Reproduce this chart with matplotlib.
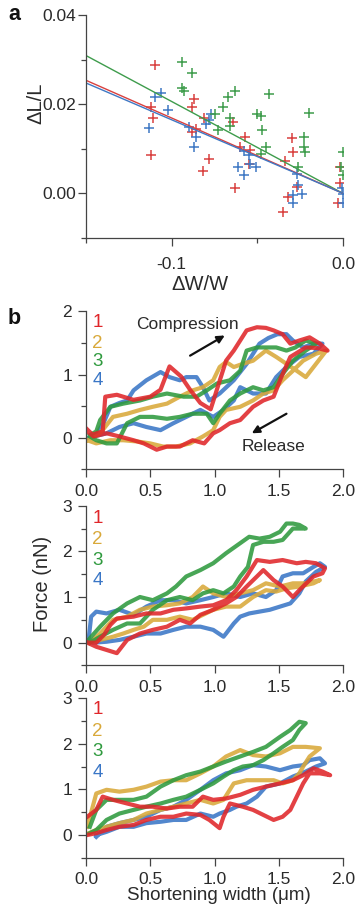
import numpy as np
import matplotlib
matplotlib.use("Agg")
import matplotlib.pyplot as plt
from matplotlib.ticker import MultipleLocator, FormatStrFormatter

plt.rcParams["font.family"] = ["Liberation Sans", "DejaVu Sans"]

# ── panel a: ΔL/L against ΔW/W ────────────────────────────────────────────────
red_dw = [-0.110, -0.112, -0.111, -0.112, -0.087, -0.088, -0.086, -0.088, -0.081,
          -0.078, -0.082, -0.064, -0.063, -0.060, -0.057, -0.055, -0.054, -0.034,
          -0.030, -0.029, -0.032, -0.035, -0.027, -0.002, -0.002, -0.003]
red_dl = [0.0287, 0.0193, 0.0169, 0.0087, 0.0211, 0.0193, 0.0144, 0.0137, 0.0169,
          0.0076, 0.0050, 0.0159, 0.0013, 0.0105, 0.0126, 0.0065, 0.0098, 0.0073,
          0.0124, 0.0093, -0.0009, -0.0041, 0.0015, 0.0059, 0.0024, -0.0022]
blue_dw = [-0.113, -0.110, -0.106, -0.102, -0.090, -0.086, -0.087, -0.080, -0.077,
           -0.078, -0.061, -0.058, -0.054, -0.051, -0.055, -0.058, -0.029, -0.029,
           -0.024, -0.026, -0.027, 0.000, 0.000, -0.0005]
blue_dl = [0.0147, 0.0217, 0.0226, 0.0187, 0.0148, 0.0126, 0.0105, 0.0156, 0.0178,
           0.0164, 0.0059, 0.0041, 0.0067, 0.0059, 0.0087, 0.0095, -0.0004, -0.0022,
           -0.0001, 0.0019, 0.0044, -0.0022, -0.0001, 0.0011]
green_dw = [-0.094, -0.088, -0.094, -0.093, -0.075, -0.070, -0.073, -0.067, -0.063,
            -0.066, -0.066, -0.050, -0.048, -0.043, -0.047, -0.045, -0.048, -0.020,
            -0.023, -0.023, -0.022, -0.026, 0.000, -0.001, 0.000]
green_dl = [0.0295, 0.0270, 0.0236, 0.0230, 0.0178, 0.0193, 0.0141, 0.0215, 0.0230,
            0.0152, 0.0169, 0.0179, 0.0174, 0.0222, 0.0141, 0.0104, 0.0089, 0.0181,
            0.0126, 0.0104, 0.0093, 0.0059, 0.0093, 0.0059, 0.0041]
fit_slopes = {"red": -0.169, "blue": -0.165, "green": -0.206}   # lines through origin
fit_range = [-0.15, 0.0]

# ── panel b: force vs shortening width, three cells, four cycles each ────────
# each trace = compression branch followed by release branch
b1_red_x = [0.00, 0.05, 0.10, 0.13, 0.15, 0.24, 0.37, 0.50, 0.58, 0.65, 0.74, 0.81, 0.89, 0.97,
            1.04, 1.09, 1.15, 1.25, 1.33, 1.40, 1.46, 1.53, 1.59, 1.66, 1.74, 1.82, 1.88,
            1.80, 1.71, 1.59, 1.52, 1.46, 1.38, 1.30, 1.20, 1.12, 1.04, 0.99, 0.92, 0.83,
            0.73, 0.63, 0.55, 0.45, 0.37, 0.26, 0.16, 0.06, 0.01]
b1_red_y = [0.15, 0.05, 0.08, 0.10, 0.65, 0.68, 0.60, 0.65, 0.76, 1.13, 0.97, 0.76, 0.55, 0.45,
            0.90, 1.22, 1.38, 1.70, 1.75, 1.74, 1.70, 1.64, 1.49, 1.54, 1.59, 1.49, 1.38,
            1.42, 1.43, 1.28, 0.96, 0.65, 0.59, 0.49, 0.28, 0.23, 0.12, 0.07, -0.09, -0.04,
            -0.14, -0.14, -0.19, -0.09, -0.04, 0.02, 0.07, 0.02, 0.10]
b1_gold_x = [0.01, 0.11, 0.21, 0.32, 0.42, 0.52, 0.63, 0.73, 0.83, 0.91, 0.99, 1.04, 1.09, 1.15,
             1.22, 1.30, 1.40, 1.48, 1.56, 1.64, 1.71, 1.79, 1.87,
             1.79, 1.69, 1.61, 1.53, 1.46, 1.38, 1.30, 1.20, 1.09, 1.04, 0.99, 0.91, 0.81,
             0.70, 0.60, 0.50, 0.40, 0.29, 0.19, 0.08, 0.01]
b1_gold_y = [-0.04, 0.07, 0.33, 0.38, 0.44, 0.49, 0.54, 0.65, 0.75, 0.80, 0.91, 1.12, 1.20, 1.12,
             1.17, 1.22, 1.38, 1.28, 1.17, 1.06, 0.96, 1.17, 1.38,
             1.33, 1.22, 1.06, 0.91, 0.75, 0.70, 0.59, 0.49, 0.44, 0.33, 0.12, 0.02, -0.09,
             -0.14, -0.14, -0.09, -0.06, -0.04, -0.04, -0.09, -0.04]
b1_green_x = [0.03, 0.08, 0.11, 0.19, 0.29, 0.42, 0.52, 0.63, 0.76, 0.86, 0.94, 1.02, 1.12, 1.20,
              1.25, 1.33, 1.40, 1.48, 1.56, 1.63, 1.71, 1.79,
              1.71, 1.61, 1.53, 1.46, 1.38, 1.30, 1.20, 1.12, 1.04, 0.99, 0.94, 0.83, 0.73,
              0.63, 0.52, 0.42, 0.32, 0.24, 0.16, 0.08, 0.03]
b1_green_y = [0.04, 0.10, 0.28, 0.49, 0.54, 0.59, 0.65, 0.70, 0.65, 0.65, 0.75, 0.86, 0.91, 1.06,
              1.38, 1.43, 1.43, 1.43, 1.38, 1.43, 1.54, 1.49,
              1.38, 1.22, 1.01, 0.80, 0.75, 0.80, 0.70, 0.59, 0.38, 0.23, 0.38, 0.38, 0.33,
              0.30, 0.33, 0.33, 0.23, -0.09, -0.09, -0.04, 0.02]
b1_blue_x = [0.02, 0.08, 0.14, 0.19, 0.26, 0.32, 0.37, 0.47, 0.58, 0.65, 0.73, 0.78, 0.86, 0.91,
             0.96, 1.04, 1.15, 1.25, 1.35, 1.42, 1.49, 1.56, 1.61, 1.69, 1.77, 1.84,
             1.77, 1.66, 1.56, 1.48, 1.40, 1.30, 1.20, 1.15, 1.07, 0.99, 0.89, 0.78, 0.68,
             0.58, 0.47, 0.37, 0.26, 0.16, 0.06]
b1_blue_y = [0.00, 0.05, 0.25, 0.49, 0.55, 0.59, 0.75, 0.91, 1.04, 0.96, 0.91, 0.96, 0.96, 0.80,
             0.59, 0.70, 0.91, 1.17, 1.49, 1.58, 1.64, 1.64, 1.54, 1.43, 1.49, 1.49,
             1.33, 1.28, 1.12, 0.96, 0.70, 0.70, 0.80, 0.59, 0.44, 0.33, 0.44, 0.33, 0.23,
             0.12, 0.17, 0.23, 0.17, 0.07, 0.02]

b2_red_x = [0.01, 0.08, 0.14, 0.19, 0.24, 0.37, 0.47, 0.58, 0.68, 0.78, 0.89, 0.99, 1.09, 1.17,
            1.25, 1.33, 1.43, 1.53, 1.64, 1.71, 1.79, 1.86,
            1.84, 1.77, 1.66, 1.61, 1.53, 1.46, 1.38, 1.33, 1.25, 1.17, 1.09, 0.99, 0.89,
            0.81, 0.73, 0.63, 0.52, 0.42, 0.32, 0.24, 0.16, 0.08, 0.01]
b2_red_y = [0.00, 0.00, 0.17, 0.39, 0.53, 0.57, 0.64, 0.64, 0.72, 0.75, 0.79, 0.82, 0.93, 1.15,
            1.45, 1.81, 1.77, 1.81, 1.74, 1.77, 1.74, 1.63,
            1.52, 1.45, 1.15, 1.00, 1.23, 1.37, 1.59, 1.45, 1.23, 1.00, 0.86, 0.72, 0.61,
            0.42, 0.50, 0.35, 0.28, 0.20, 0.06, -0.23, -0.16, -0.09, 0.00]
b2_gold_x = [0.03, 0.11, 0.21, 0.32, 0.42, 0.52, 0.63, 0.73, 0.83, 0.91, 0.99, 1.09, 1.20, 1.30,
             1.40, 1.51, 1.61, 1.71, 1.82,
             1.77, 1.66, 1.56, 1.48, 1.40, 1.30, 1.20, 1.09, 0.99, 0.91, 0.83, 0.73, 0.63,
             0.52, 0.45, 0.37, 0.29, 0.21, 0.11, 0.03]
b2_gold_y = [0.00, 0.20, 0.50, 0.57, 0.72, 0.79, 0.82, 0.86, 1.00, 1.23, 1.08, 1.00, 1.08, 1.15,
             1.30, 1.23, 1.30, 1.30, 1.37,
             1.30, 1.23, 1.19, 1.12, 1.15, 1.00, 0.79, 0.79, 0.72, 0.61, 0.50, 0.57, 0.50,
             0.50, 0.35, 0.28, 0.20, 0.13, 0.06, 0.00]
b2_green_x = [0.00, 0.11, 0.21, 0.32, 0.42, 0.52, 0.63, 0.70, 0.78, 0.89, 0.99, 1.09, 1.20, 1.27,
              1.35, 1.43, 1.51, 1.56, 1.61, 1.66, 1.71,
              1.61, 1.53, 1.46, 1.38, 1.30, 1.26, 1.20, 1.15, 1.07, 0.99, 0.91, 0.83, 0.73,
              0.63, 0.52, 0.42, 0.32, 0.21, 0.11, 0.03]
b2_green_y = [0.00, 0.35, 0.64, 0.86, 1.00, 0.93, 1.08, 1.23, 1.45, 1.59, 1.74, 1.96, 2.18, 2.32,
              2.28, 2.32, 2.43, 2.61, 2.61, 2.58, 2.50,
              2.50, 2.25, 2.21, 2.21, 2.14, 1.66, 1.45, 1.23, 1.08, 1.15, 1.08, 0.93, 1.00,
              0.93, 0.72, 0.42, 0.42, 0.28, 0.13, 0.00]
b2_blue_x = [0.02, 0.04, 0.08, 0.16, 0.26, 0.37, 0.47, 0.58, 0.68, 0.78, 0.89, 0.99, 1.09, 1.20,
             1.30, 1.40, 1.48, 1.53, 1.61, 1.69, 1.77, 1.82, 1.86,
             1.79, 1.71, 1.66, 1.59, 1.51, 1.43, 1.35, 1.27, 1.20, 1.15, 1.09, 1.07, 0.99,
             0.89, 0.78, 0.68, 0.58, 0.47, 0.37, 0.26, 0.16, 0.06]
b2_blue_y = [0.06, 0.57, 0.68, 0.64, 0.72, 0.61, 0.79, 0.93, 0.93, 0.86, 0.93, 1.00, 1.08, 1.00,
             1.08, 1.00, 1.15, 1.45, 1.52, 1.52, 1.66, 1.74, 1.66,
             1.55, 1.34, 1.08, 0.86, 0.79, 0.72, 0.68, 0.64, 0.57, 0.42, 0.20, 0.13, 0.28,
             0.35, 0.35, 0.28, 0.20, 0.20, 0.13, 0.06, 0.02, 0.00]

b3_red_x = [0.01, 0.08, 0.13, 0.21, 0.32, 0.42, 0.52, 0.63, 0.73, 0.83, 0.91, 0.99, 1.09, 1.20,
            1.30, 1.40, 1.51, 1.61, 1.69, 1.77, 1.84, 1.90,
            1.82, 1.74, 1.69, 1.64, 1.59, 1.53, 1.46, 1.38, 1.30, 1.22, 1.12, 1.07, 1.04,
            0.96, 0.89, 0.78, 0.68, 0.58, 0.47, 0.37, 0.26, 0.16, 0.08, 0.01]
b3_red_y = [0.40, 0.55, 0.84, 0.77, 0.69, 0.62, 0.62, 0.58, 0.62, 0.62, 0.84, 0.77, 0.80, 0.88,
            0.99, 1.06, 1.13, 1.20, 1.31, 1.46, 1.39, 1.31,
            1.35, 1.35, 1.13, 0.84, 0.55, 0.40, 0.33, 0.44, 0.55, 0.62, 0.69, 0.40, 0.15,
            0.33, 0.44, 0.47, 0.40, 0.40, 0.33, 0.22, 0.18, 0.11, 0.04, 0.00]
b3_gold_x = [0.01, 0.08, 0.16, 0.26, 0.37, 0.47, 0.58, 0.68, 0.78, 0.89, 0.99, 1.09, 1.20, 1.30,
             1.40, 1.51, 1.61, 1.71, 1.82,
             1.74, 1.69, 1.66, 1.61, 1.53, 1.46, 1.35, 1.25, 1.15, 1.07, 0.99, 0.89, 0.78,
             0.68, 0.58, 0.47, 0.37, 0.26, 0.16, 0.08, 0.02]
b3_gold_y = [0.18, 0.91, 0.99, 0.95, 0.99, 1.06, 1.17, 1.20, 1.20, 1.35, 1.50, 1.72, 1.86, 1.75,
             1.72, 1.79, 1.93, 1.93, 1.90,
             1.72, 1.50, 1.35, 1.20, 1.13, 1.20, 1.20, 1.20, 1.13, 0.77, 0.69, 0.77, 0.69,
             0.62, 0.55, 0.47, 0.33, 0.26, 0.18, 0.11, 0.04]
b3_green_x = [0.03, 0.08, 0.16, 0.26, 0.37, 0.47, 0.58, 0.68, 0.78, 0.89, 0.99, 1.09, 1.20, 1.30,
              1.40, 1.51, 1.59, 1.66, 1.71,
              1.66, 1.61, 1.53, 1.46, 1.38, 1.30, 1.22, 1.15, 1.07, 0.99, 0.89, 0.78, 0.68,
              0.58, 0.47, 0.37, 0.26, 0.16, 0.08, 0.03]
b3_green_y = [0.18, 0.55, 0.77, 0.77, 0.77, 0.84, 1.06, 1.20, 1.31, 1.39, 1.50, 1.61, 1.72, 1.82,
              1.93, 2.15, 2.30, 2.48, 2.45,
              2.30, 2.08, 1.93, 1.79, 1.64, 1.53, 1.50, 1.42, 1.28, 1.13, 0.99, 0.84, 0.77,
              0.69, 0.62, 0.55, 0.47, 0.33, 0.11, 0.04]
b3_blue_x = [0.08, 0.16, 0.26, 0.37, 0.47, 0.58, 0.68, 0.78, 0.89, 0.99, 1.09, 1.20, 1.30, 1.40,
             1.51, 1.61, 1.69, 1.74, 1.82, 1.86,
             1.79, 1.71, 1.61, 1.51, 1.40, 1.33, 1.25, 1.17, 1.12, 1.04, 0.99, 0.89, 0.78,
             0.68, 0.58, 0.47, 0.37, 0.26, 0.16, 0.08]
b3_blue_y = [-0.04, 0.18, 0.26, 0.33, 0.40, 0.55, 0.62, 0.77, 0.99, 1.20, 1.35, 1.42, 1.53, 1.50,
             1.42, 1.50, 1.53, 1.64, 1.68, 1.57,
             1.50, 1.39, 1.28, 1.13, 1.06, 0.84, 0.69, 0.62, 0.55, 0.47, 0.40, 0.47, 0.33,
             0.33, 0.29, 0.26, 0.18, 0.18, 0.07, 0.00]

cycle_labels = ["1", "2", "3", "4"]

# ── styling ──────────────────────────────────────────────────────────────────
C_RED, C_GOLD, C_GREEN, C_BLUE = "#e0262a", "#d9a93a", "#2f9a3e", "#3a76c6"
A_RED, A_BLUE, A_GREEN = "#d9403e", "#3f78c4", "#3e9c4c"
INK = "#2a2a2a"
TICK_FS = 12.5


def style(ax, xpad, ypad):
    for s in ("top", "right"):
        ax.spines[s].set_visible(False)
    for s in ("left", "bottom"):
        ax.spines[s].set_color("#444444")
        ax.spines[s].set_linewidth(0.9)
    ax.tick_params(which="major", direction="out", length=5.5, width=0.9,
                   color="#444444", labelsize=TICK_FS, labelcolor=INK)
    ax.tick_params(which="minor", direction="out", length=3.5, width=0.9, color="#444444")
    ax.tick_params(axis="x", which="major", pad=xpad)
    ax.tick_params(axis="y", which="major", pad=ypad)
    ax.patch.set_alpha(0)


fig = plt.figure(figsize=(3.57, 9.07), dpi=100)

# panel a
ax_a = fig.add_axes([0.2409, 0.7376, 0.7199, 0.2459])
style(ax_a, 8.5, 1.5)
for dw, dl, c in ((red_dw, red_dl, A_RED), (blue_dw, blue_dl, A_BLUE),
                  (green_dw, green_dl, A_GREEN)):
    ax_a.plot(dw, dl, ls="none", marker="+", ms=7.5, mew=1.1, color=c)
xs = np.array(fit_range)
for key, c in (("green", A_GREEN), ("red", A_RED), ("blue", A_BLUE)):
    ax_a.plot(xs, fit_slopes[key] * xs, color=c, lw=1.0)
ax_a.set_xlim(-0.15, 0.0)
ax_a.set_ylim(-0.01, 0.04)
ax_a.xaxis.set_minor_locator(MultipleLocator(0.05))
ax_a.yaxis.set_major_locator(MultipleLocator(0.02))
ax_a.yaxis.set_minor_locator(MultipleLocator(0.01))
ax_a.yaxis.set_major_formatter(FormatStrFormatter("%.2f"))
ax_a.set_xticks([-0.1, 0.0])
ax_a.set_xticklabels(["-0.1", "0.0"])

fig.text(36 / 357, 1 - 103 / 907, "ΔL/L", rotation=90, ha="center", va="center",
         fontsize=14.5, color=INK)
fig.text(200 / 357, 1 - 284 / 907, "ΔW/W", ha="center", va="center", fontsize=14.5,
         color=INK)
fig.text(14 / 357, 1 - 15 / 907, "a", ha="center", va="center", fontsize=15.5,
         fontweight="bold", color="#111111")

# panel b
b_rects = [[0.2409, 0.4826, 0.7199, 0.1740],
           [0.2409, 0.2663, 0.7199, 0.1761],
           [0.2409, 0.0542, 0.7199, 0.1762]]
b_traces = [
    [(b1_blue_x, b1_blue_y), (b1_gold_x, b1_gold_y), (b1_green_x, b1_green_y), (b1_red_x, b1_red_y)],
    [(b2_blue_x, b2_blue_y), (b2_gold_x, b2_gold_y), (b2_green_x, b2_green_y), (b2_red_x, b2_red_y)],
    [(b3_blue_x, b3_blue_y), (b3_gold_x, b3_gold_y), (b3_green_x, b3_green_y), (b3_red_x, b3_red_y)],
]
b_ymax = [2, 3, 3]
label_y = [[1.83, 1.50, 1.20, 0.90], [2.71, 2.25, 1.81, 1.37], [2.74, 2.26, 1.82, 1.36]]
trace_colors = [C_BLUE, C_GOLD, C_GREEN, C_RED]
label_colors = [C_RED, C_GOLD, C_GREEN, C_BLUE]

for i, rect in enumerate(b_rects):
    ax = fig.add_axes(rect)
    style(ax, 5.0, 4.5)
    for (tx, ty), c in zip(b_traces[i], trace_colors):
        ax.plot(tx, ty, color=c, lw=3.0, alpha=0.88, solid_joinstyle="round")
    ax.set_xlim(0, 2.0)
    ax.set_ylim(-0.5, b_ymax[i])
    ax.xaxis.set_major_locator(MultipleLocator(0.5))
    ax.xaxis.set_major_formatter(FormatStrFormatter("%.1f"))
    ax.yaxis.set_major_locator(MultipleLocator(1))
    ax.yaxis.set_minor_locator(MultipleLocator(0.5))
    ax.yaxis.set_major_formatter(FormatStrFormatter("%d"))
    for lab, yy, c in zip(cycle_labels, label_y[i], label_colors):
        ax.text(0.09, yy, lab, color=c, fontsize=13.5, ha="center", va="center")
    if i == 0:
        ax.text(0.79, 1.79, "Compression", fontsize=12.5, ha="center", va="center", color=INK)
        ax.text(1.46, -0.14, "Release", fontsize=12.5, ha="center", va="center", color=INK)
        ax.annotate("", xy=(1.08, 1.62), xytext=(0.81, 1.30),
                    arrowprops=dict(arrowstyle="-|>", color="#111111", lw=1.6,
                                    mutation_scale=11, shrinkA=0, shrinkB=0))
        ax.annotate("", xy=(1.29, 0.07), xytext=(1.56, 0.38),
                    arrowprops=dict(arrowstyle="-|>", color="#111111", lw=1.6,
                                    mutation_scale=11, shrinkA=0, shrinkB=0))

fig.text(14 / 357, 1 - 318 / 907, "b", ha="center", va="center", fontsize=15.5,
         fontweight="bold", color="#111111")
fig.text(43 / 357, 1 - 584 / 907, "Force (nN)", rotation=90, ha="center", va="center",
         fontsize=14.5, color=INK)
fig.text(219 / 357, 1 - 895 / 907, "Shortening width (μm)", ha="center", va="center",
         fontsize=13.5, color=INK)

fig.savefig("out.png", dpi=100)
